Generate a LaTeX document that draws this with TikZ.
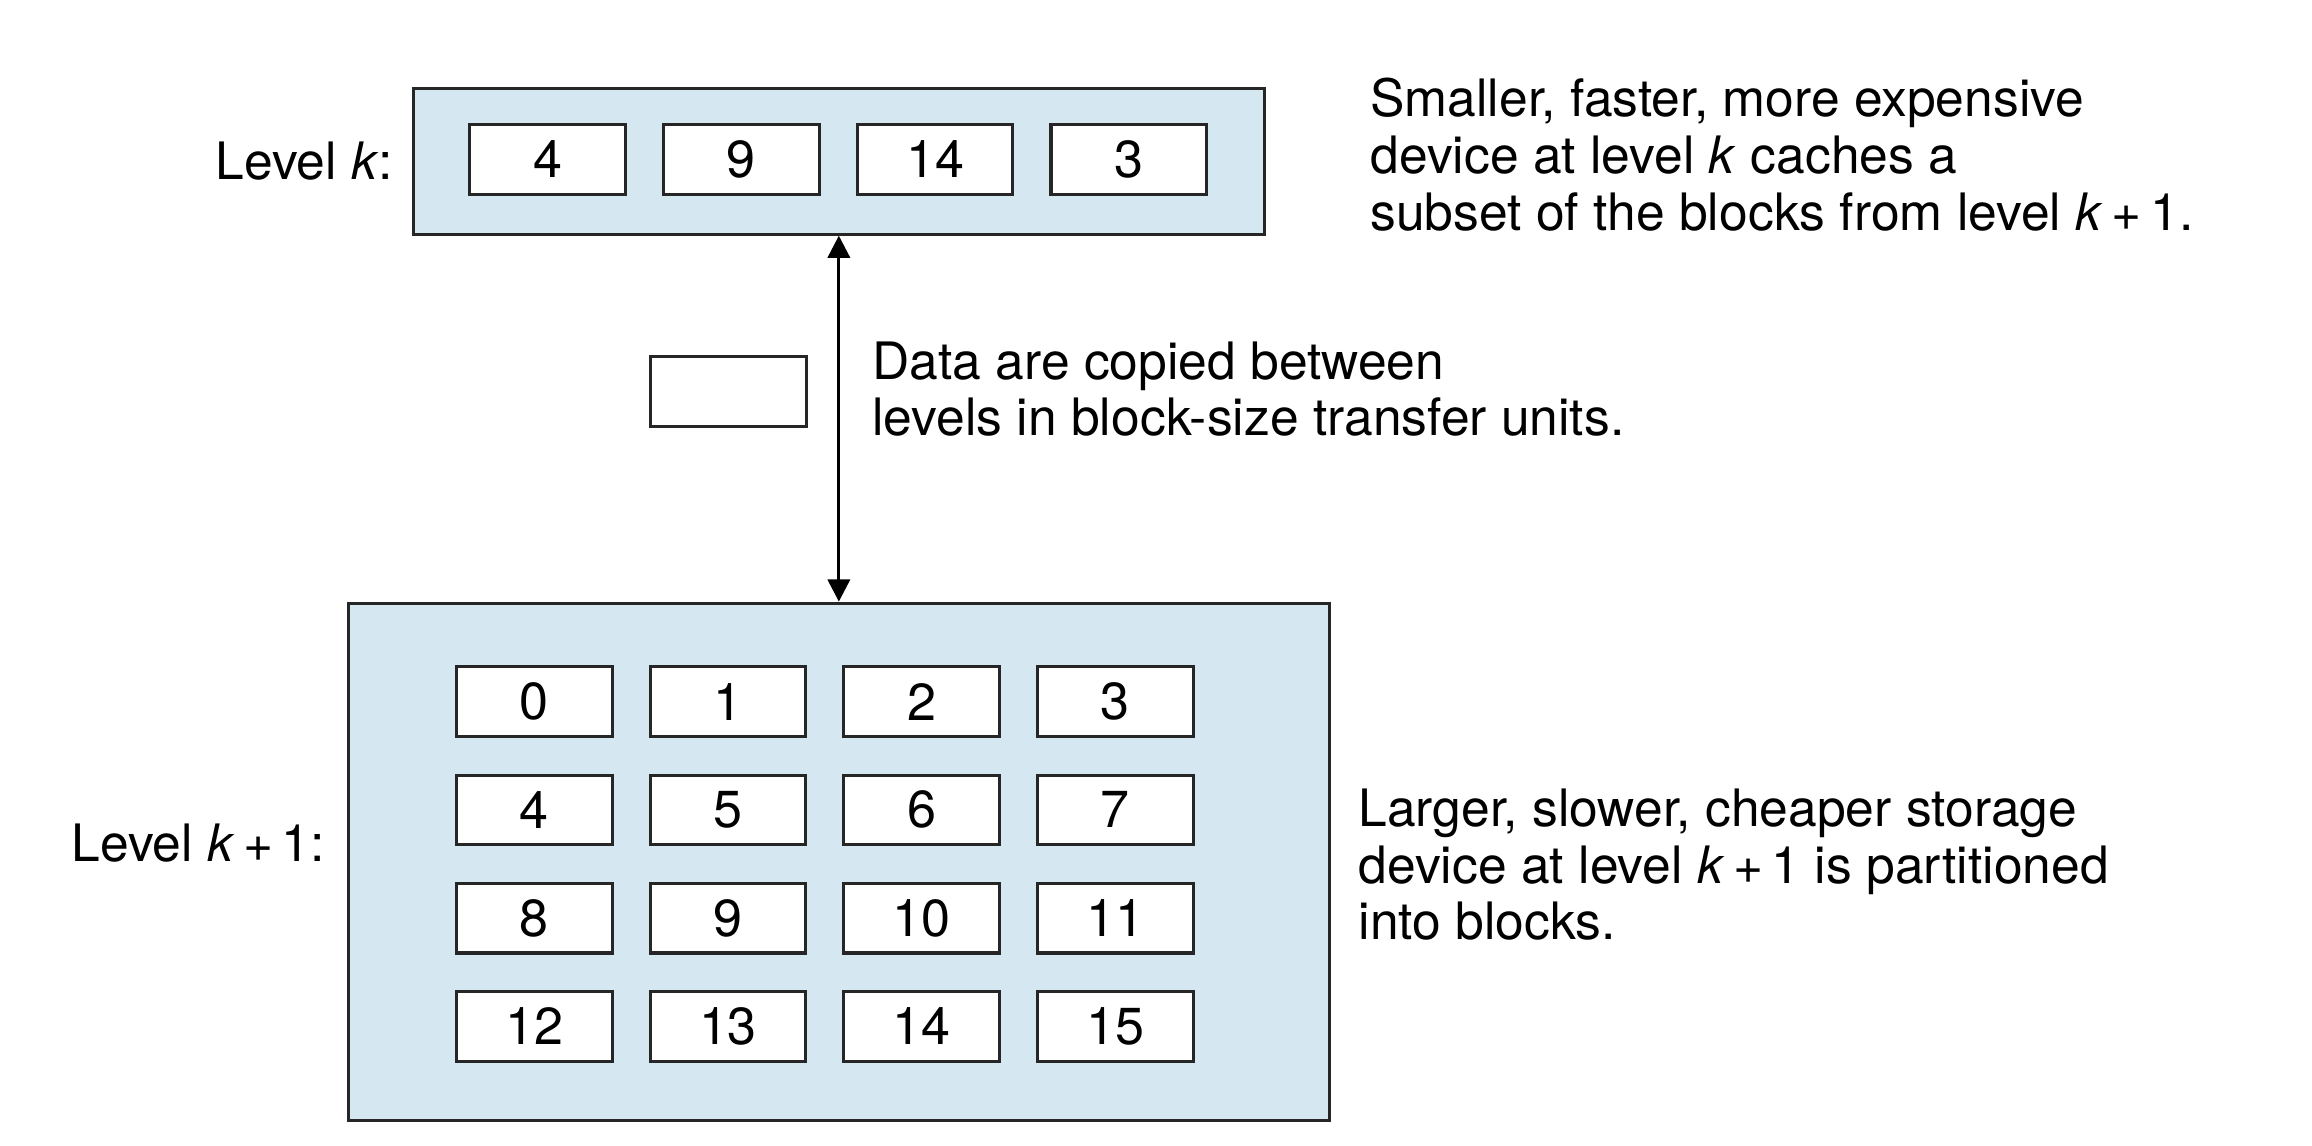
\documentclass[tikz,border=0pt]{standalone}
\usepackage{fontspec}
\setmainfont{TeX Gyre Heros}
\usetikzlibrary{arrows.meta,positioning}
\definecolor{levelblue}{RGB}{213,232,241}

\begin{document}
\begin{tikzpicture}[x=1mm,y=1mm,
	devicebox/.style={draw=black!85,line width=0.6pt,fill=levelblue,inner sep=0pt},
	blockbox/.style={draw=black!85,line width=0.6pt,fill=white,minimum width=10.5mm,minimum height=4.7mm,inner sep=0pt,font=\fontsize{10}{11}\selectfont},
	note/.style={align=left,inner sep=0pt,font=\fontsize{9.9}{10.9}\selectfont}]


\useasboundingbox (0,0) rectangle (156,77.32);


\node[devicebox,minimum width=57.4mm,minimum height=9.8mm] (devk) at (56.6,66.42) {};%level k
\node[devicebox,minimum width=66.2mm,minimum height=34.9mm] (devkk) at (56.6,19.17) {};%level k+1


\foreach \n [count=\i from 0] in {4,9,14,3}
	\node[blockbox] (k\i) at (36.95+13.07*\i,66.57) {\n};% cached blocks

\foreach \r in {0,...,3}
	\foreach \c in {0,...,3}{
		\pgfmathtruncatemacro{\n}{4*\r+\c}
		\node[blockbox] (kk\n) at (36.05+13.07*\c,29.97-7.3*\r) {\n};% partitioned blocks
	}


\node[blockbox] (unit) at (49.15,50.92) {};% transfer unit

\draw[{Triangle[length=1.5mm,width=1.5mm]}-{Triangle[length=1.5mm,width=1.5mm]},line width=0.6pt] (devk.south) -- (devkk.north);


\node[note,left=1.2mm of devk] (labk) {Level \textit{k}:};
\node[note,anchor=east] (labkk) at (22.0,20.42) {Level \textit{k}\,+\,1:};


\node[note,anchor=west] (txtk) at (92.4,66.87) {Smaller, faster, more expensive\\device at level \textit{k} caches a\\subset of the blocks from level \textit{k}\,+\,1.};

\node[note,anchor=west] (txtcopy) at (58.8,51.07) {Data are copied between\\levels in block-size transfer units.};

\node[note,anchor=west] (txtkk) at (91.6,18.97) {Larger, slower, cheaper storage\\device at level \textit{k}\,+\,1 is partitioned\\into blocks.};


\end{tikzpicture}
\end{document}
